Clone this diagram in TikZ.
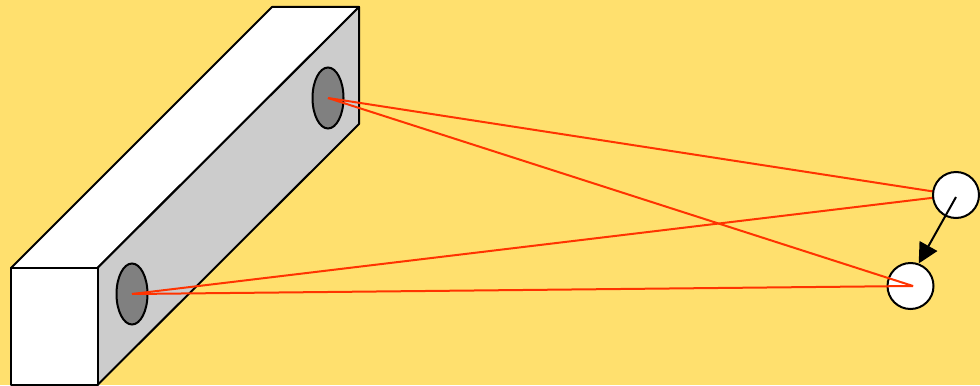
\documentclass[tikz,border=0pt]{standalone}
\usepackage{xcolor}
\usetikzlibrary{arrows.meta, positioning, calc, shapes.geometric}
\definecolor{backdrop}{HTML}{FFE06E}
\definecolor{sideface}{HTML}{CCCCCC}
\definecolor{holefill}{HTML}{808080}
\definecolor{ray}{HTML}{FF3300}

\begin{document}
\begin{tikzpicture}[
  x=0.75pt, y=-0.75pt,
  >=Stealth,
  face/.style={draw=black, line width=1.5pt, line join=round},
  hole/.style={ellipse, draw=black, fill=holefill, line width=1.5pt, inner sep=0pt,
               minimum width=23.25pt, minimum height=45.75pt},
  spot/.style={circle, draw=black, fill=white, line width=1.5pt, inner sep=0pt,
               minimum size=34.5pt},
  beam/.style={draw=ray, line width=1.5pt},
  motion/.style={-{Triangle[length=15pt,width=15pt]}, draw=black, line width=1.5pt}
]
  \useasboundingbox (0,0) rectangle (980,385);
  \fill[backdrop] (0,0) rectangle (980,385);

  % block
  \filldraw[face, fill=white] (11,268) -- (272,7) -- (359,7) -- (97.5,268) -- cycle;
  \filldraw[face, fill=sideface] (97.5,268) -- (359,7) -- (359,124) -- (97.5,385) -- cycle;
  \filldraw[face, fill=white] (11,268) rectangle (97.5,385);

  \node[hole] (holeupper) at (328,98) {};
  \node[hole] (holelower) at (132,294) {};

  % rays to the first position go under the disc
  \draw[beam] (holeupper.center) -- (956,195) coordinate (first);
  \draw[beam] (holelower.center) -- (first);
  \node[spot] (spotlower) at (910.5,286) {};
  \node[spot] (spotupper) at (956,195) {};
  \coordinate (second) at (913,286);
  \draw[beam] (holeupper.center) -- (second);
  \draw[beam] (holelower.center) -- (second);

  \coordinate (tail) at (956,197);
  \draw[motion] (tail) -- (spotlower.70);
\end{tikzpicture}
\end{document}
